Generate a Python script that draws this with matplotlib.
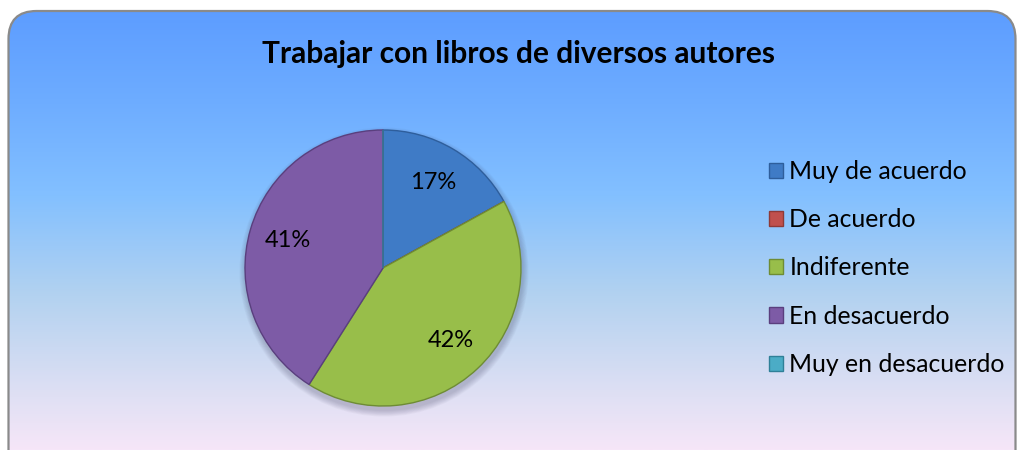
import numpy as np
import matplotlib
matplotlib.use("Agg")
import matplotlib.pyplot as plt
from matplotlib.patches import FancyBboxPatch, Circle
from matplotlib.colors import LinearSegmentedColormap

# ---- data ----
title = "Trabajar con libros de diversos autores"
categories = ["Muy de acuerdo", "De acuerdo", "Indiferente", "En desacuerdo", "Muy en desacuerdo"]
values = [17, 0, 42, 41, 0]
colors = ["#3F7BC6", "#C0504D", "#98BE4A", "#7D5BA6", "#4BACC6"]
edge_colors = ["#2E5E9C", "#8E3A38", "#6E8C34", "#5A3F7E", "#2F8098"]

W, H = 1018, 450
fig = plt.figure(figsize=(W / 100, H / 100), dpi=100)
fig.patch.set_facecolor("white")
ax = fig.add_axes([0, 0, 1, 1])
ax.set_xlim(0, W)
ax.set_ylim(0, H)
ax.set_aspect("equal")
ax.axis("off")

# background gradient inside rounded frame
grad_cmap = LinearSegmentedColormap.from_list(
    "bg",
    [(0.0, "#5D9DFF"), (0.2, "#6DACFF"), (0.42, "#83C0FF"),
     (0.65, "#B3D2F0"), (0.88, "#E0E0F4"), (1.0, "#F6E6F8")])
grad = np.linspace(0, 1, 256).reshape(-1, 1)
frame = FancyBboxPatch((8.5, -30), 1007, H - 11 + 30,
                       boxstyle="round,pad=0,rounding_size=28",
                       facecolor="none", edgecolor="#8A8A8A", linewidth=1.6, zorder=3)
img = ax.imshow(grad, cmap=grad_cmap, aspect="auto",
                extent=(8, 1016, 0, H - 11), origin="upper", zorder=0)
ax.add_patch(frame)
img.set_clip_path(frame)

# title
ax.text(519, H - 54, title, ha="center", va="center", fontsize=21.5,
        fontweight="bold", family="Lato", color="black", zorder=5)

# pie
cx, cy, r = 383, H - 268, 138
# soft shadow
for k in range(8):
    ax.add_patch(Circle((cx + 1, cy - 4), r + 1 + k * 0.8, facecolor="#404060",
                        alpha=0.035, edgecolor="none", zorder=1))


def fmt(p):
    return f"{p:.0f}%" if p > 0.5 else ""


wedges, texts, autotexts = ax.pie(
    values, colors=colors, startangle=90, counterclock=False,
    center=(cx, cy), radius=r, autopct=fmt, pctdistance=0.72,
    wedgeprops=dict(linewidth=1.0), textprops=dict(fontsize=17, family="Lato", color="black"),
    frame=True)
for w, ec in zip(wedges, edge_colors):
    w.set_edgecolor(ec)
    w.set_zorder(2)
for t in autotexts:
    t.set_zorder(4)
ax.set_xlim(0, W)
ax.set_ylim(0, H)
ax.axis("off")

leg = ax.legend(wedges, categories, loc="upper left",
                bbox_to_anchor=(769 / W, 1 - 160 / H), frameon=False,
                prop=dict(family="Lato", size=17.8), labelspacing=1.02,
                handlelength=0.57, handleheight=0.57, handletextpad=0.25,
                borderaxespad=0, borderpad=0)
for h in leg.legend_handles:
    h.set_linewidth(1.0)

fig.savefig("out.png", dpi=100)
